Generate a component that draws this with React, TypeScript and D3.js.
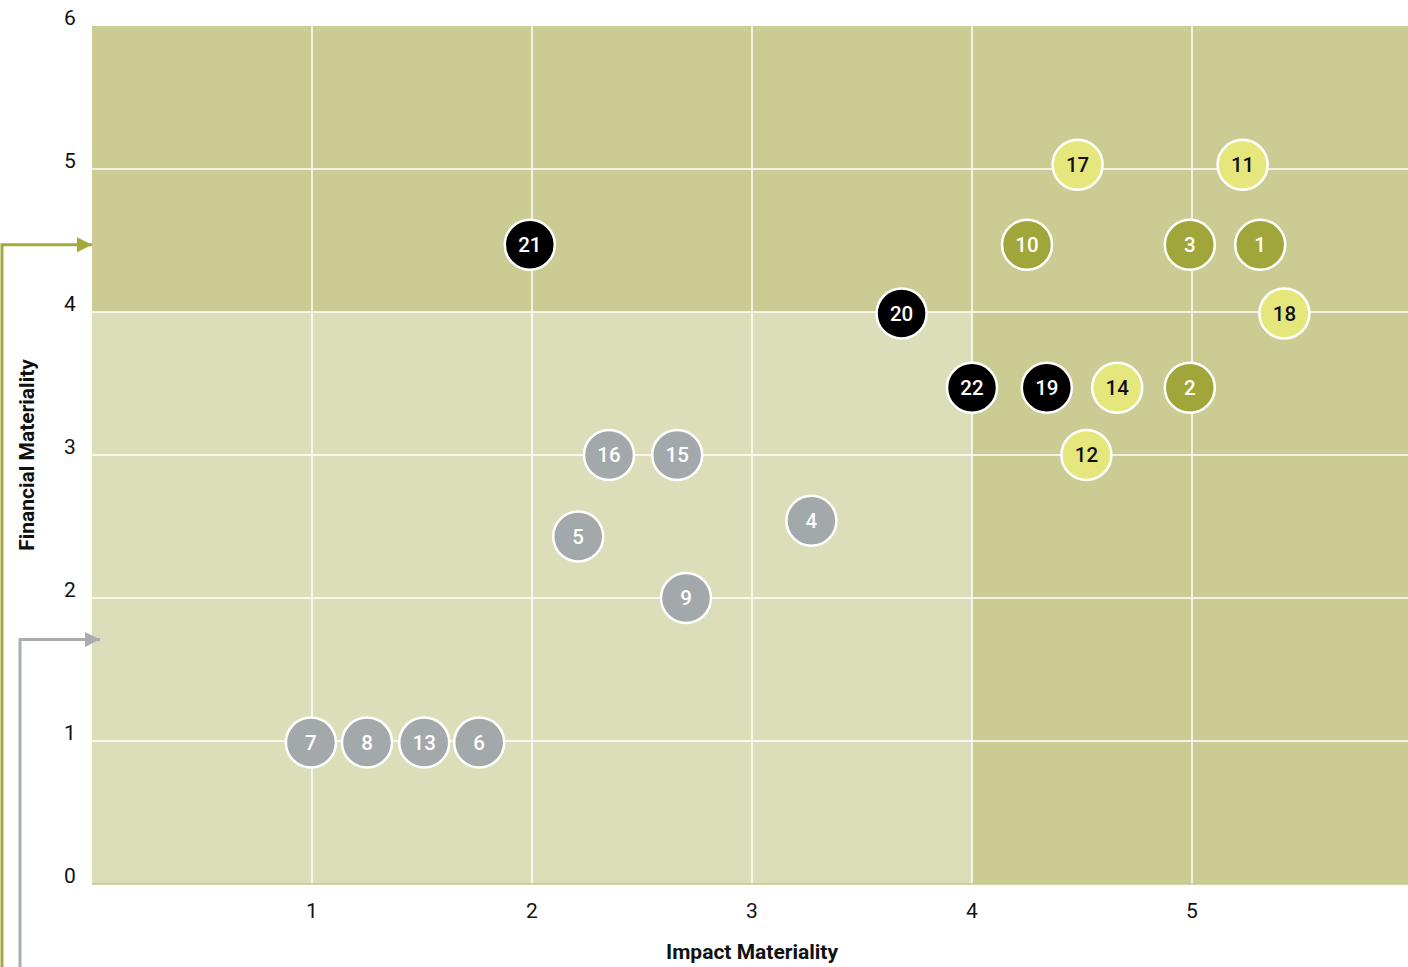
import { useEffect, useRef } from 'react';
import * as d3 from 'd3';

type Topic = { id: number; impact: number; financial: number; group: 'black' | 'olive' | 'yellow' | 'gray' };

const topicIds = [1, 2, 3, 4, 5, 6, 7, 8, 9, 10, 11, 12, 13, 14, 15, 16, 17, 18, 19, 20, 21, 22];
const impactValues = [5.31, 4.99, 4.99, 3.27, 2.21, 1.76, 0.995, 1.25, 2.7, 4.25, 5.23, 4.52, 1.51, 4.66, 2.66, 2.35, 4.48, 5.42, 4.34, 3.68, 1.99, 4.0];
const financialValues = [4.47, 3.47, 4.47, 2.54, 2.43, 0.99, 0.99, 0.99, 2.0, 4.47, 5.03, 3.0, 0.99, 3.47, 3.0, 3.0, 5.03, 3.99, 3.47, 3.99, 4.47, 3.47];
const topicGroups: Topic['group'][] = [
    'olive', 'olive', 'olive', 'gray', 'gray', 'gray', 'gray', 'gray', 'gray', 'olive', 'yellow',
    'yellow', 'gray', 'yellow', 'gray', 'gray', 'yellow', 'yellow', 'black', 'black', 'black', 'black',
];
const xTicks = [1, 2, 3, 4, 5];
const yTicks = [0, 1, 2, 3, 4, 5, 6];
const threshold = 4;
const greenArrowLevel = 4.47;
const grayArrowLevel = 1.71;

const fills = { black: '#000000', olive: '#a1a63a', yellow: '#e5e77d', gray: '#a3a8aa' };
const textColors = { black: '#ffffff', olive: '#ffffff', yellow: '#111111', gray: '#ffffff' };

const topics: Topic[] = topicIds.map((id, i) => ({
    id,
    impact: impactValues[i],
    financial: financialValues[i],
    group: topicGroups[i],
}));

const App = () => {
    const svgRef = useRef<SVGSVGElement | null>(null);
    const width = 1408;
    const height = 967;

    useEffect(() => {
        if (!svgRef.current) return;
        const svg = d3.select(svgRef.current);
        svg.selectAll('*').remove();

        const x = d3.scaleLinear().domain([0, 6]).range([92, 1412]);
        const y = d3.scaleLinear().domain([0, 6]).range([884, 26]);
        const font = 'Roboto, sans-serif';

        const defs = svg.append('defs');
        const marker = (id: string, color: string) =>
            defs
                .append('marker')
                .attr('id', id)
                .attr('viewBox', '0 0 10 10')
                .attr('refX', 10)
                .attr('refY', 5)
                .attr('markerWidth', 6)
                .attr('markerHeight', 5)
                .attr('markerUnits', 'strokeWidth')
                .attr('orient', 'auto')
                .append('path')
                .attr('d', 'M0,0 L10,5 L0,10 z')
                .attr('fill', color);
        marker('arrow-green', '#a3aa3a');
        marker('arrow-gray', '#a7adb0');

        // Background zones
        const bg = svg.append('g');
        bg.append('rect')
            .attr('x', x(0)).attr('y', y(6))
            .attr('width', x(6) - x(0)).attr('height', y(0) - y(6))
            .attr('fill', '#cbcc94');
        bg.append('rect')
            .attr('x', x(0)).attr('y', y(threshold))
            .attr('width', x(threshold) - x(0)).attr('height', y(0) - y(threshold))
            .attr('fill', '#dcdeb9');

        // Grid
        const grid = svg.append('g').attr('stroke', '#ffffff').attr('stroke-width', 1.5);
        grid.selectAll('line.v')
            .data(xTicks)
            .join('line')
            .attr('x1', (d) => x(d)).attr('x2', (d) => x(d))
            .attr('y1', y(6)).attr('y2', y(0));
        grid.selectAll('line.h')
            .data(yTicks.filter((d) => d > 0 && d < 6))
            .join('line')
            .attr('class', 'h')
            .attr('x1', x(0)).attr('x2', x(6))
            .attr('y1', (d) => y(d)).attr('y2', (d) => y(d));

        svg.append('line')
            .attr('x1', x(0)).attr('x2', x(6))
            .attr('y1', y(0)).attr('y2', y(0))
            .attr('stroke', '#c3c784').attr('stroke-width', 1.5);

        // Tick labels
        svg.append('g')
            .selectAll('text')
            .data(xTicks)
            .join('text')
            .attr('x', (d) => x(d))
            .attr('y', 918)
            .attr('text-anchor', 'middle')
            .attr('font-family', font)
            .attr('font-size', 21)
            .attr('fill', '#111')
            .text((d) => d);
        svg.append('g')
            .selectAll('text')
            .data(yTicks)
            .join('text')
            .attr('x', 70)
            .attr('y', (d) => y(d) - 1)
            .attr('text-anchor', 'middle')
            .attr('font-family', font)
            .attr('font-size', 21)
            .attr('fill', '#111')
            .text((d) => d);

        // Axis titles
        svg.append('text')
            .attr('x', x(3))
            .attr('y', 959)
            .attr('text-anchor', 'middle')
            .attr('font-family', font)
            .attr('font-weight', 'bold')
            .attr('font-size', 21)
            .attr('fill', '#111')
            .text('Impact Materiality');
        svg.append('text')
            .attr('transform', `translate(34,${y(3)}) rotate(-90)`)
            .attr('text-anchor', 'middle')
            .attr('font-family', font)
            .attr('font-weight', 'bold')
            .attr('font-size', 21)
            .attr('fill', '#111')
            .text('Financial Materiality');

        // Bracket arrows
        svg.append('path')
            .attr('d', `M2,${height} V${y(greenArrowLevel)} H${x(0)}`)
            .attr('fill', 'none')
            .attr('stroke', '#a3aa3a')
            .attr('stroke-width', 3)
            .attr('marker-end', 'url(#arrow-green)');
        svg.append('path')
            .attr('d', `M20,${height} V${y(grayArrowLevel)} H${x(0) + 8}`)
            .attr('fill', 'none')
            .attr('stroke', '#a7adb0')
            .attr('stroke-width', 3)
            .attr('marker-end', 'url(#arrow-gray)');

        // Points
        const pts = svg.append('g')
            .selectAll('g')
            .data(topics)
            .join('g')
            .attr('transform', (d) => `translate(${x(d.impact)},${y(d.financial)})`);
        pts.append('circle')
            .attr('r', 25)
            .attr('fill', (d) => fills[d.group])
            .attr('stroke', '#ffffff')
            .attr('stroke-width', 2.5);
        pts.append('text')
            .attr('text-anchor', 'middle')
            .attr('dy', '0.36em')
            .attr('font-family', font)
            .attr('font-weight', 500)
            .attr('font-size', 20.5)
            .attr('fill', (d) => textColors[d.group])
            .text((d) => d.id);
    }, []);

    return (
        <svg
            ref={svgRef}
            width={width}
            height={height}
            style={{ position: 'absolute', left: 0, top: 0, background: '#fff' }}
        />
    );
};

export default App;
